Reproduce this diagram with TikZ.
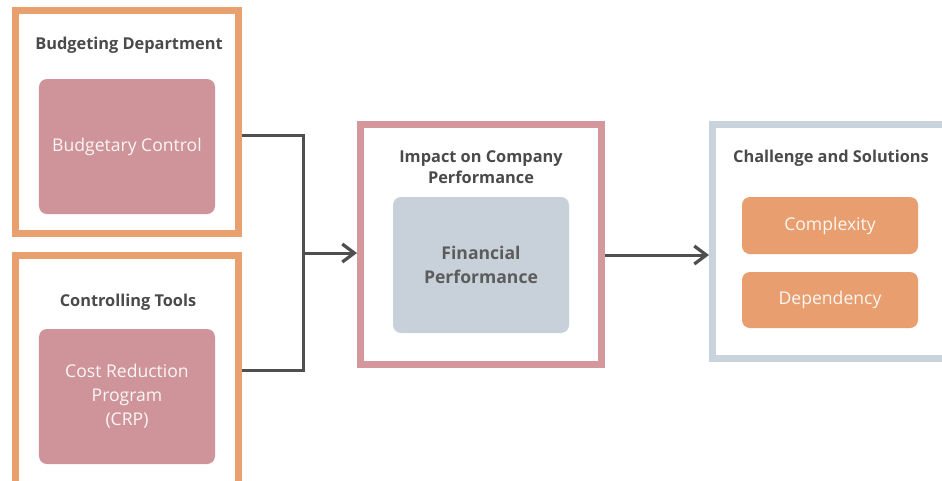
\documentclass[tikz,border=0pt]{standalone}
\usepackage{fontspec}
\setmainfont{Open Sans}
\usetikzlibrary{arrows.meta,calc}

\definecolor{framepeach}{HTML}{E9A06F}
\definecolor{framerose}{HTML}{D3979C}
\definecolor{framegrey}{HTML}{C9D3DC}
\definecolor{boxrose}{HTML}{CE9499}
\definecolor{boxgrey}{HTML}{C8D1DA}
\definecolor{boxpeach}{HTML}{E89E6E}
\definecolor{inkdark}{HTML}{4A4A4A}
\definecolor{inkline}{HTML}{4F4F4F}

\begin{document}
\begin{tikzpicture}[
						frame/.style = {draw=#1, line width=0.14cm, inner sep=0},
						heading/.style = {text=inkdark, font=\fontsize{9.3}{12}\selectfont\bfseries, align=center},
						card/.style = {fill=#1, rounded corners=0.16cm, minimum width=3.52cm, align=center, font=\fontsize{10}{13.6}\selectfont},
						link/.style = {inkline, line width=0.06cm},
						arrow/.style = {link, -{Straight Barb[length=0.24cm, width=0.36cm, line width=0.065cm]}}
						]

					\path[use as bounding box] (0,0) rectangle (18.84,-9.6);
					\clip (0,0) rectangle (18.84,-9.6);
					\fill[white] (0,0) rectangle (18.84,-9.6);

					\node[frame=framepeach, minimum width=4.46cm, minimum height=4.46cm] (budget) at (2.54,-2.44) {};
					\node[frame=framepeach, minimum width=4.46cm, minimum height=4.70cm] (tools) at (2.54,-7.46) {};
					\node[frame=framerose, minimum width=4.82cm, minimum height=4.80cm] (impact) at (9.62,-4.89) {};
					\node[frame=framegrey, minimum width=4.70cm, minimum height=4.68cm] (challenge) at (16.6,-4.83) {};

					\node[heading] (budgettitle) at (2.58,-0.90) {Budgeting Department};
					\node[heading] (toolstitle) at (2.56,-6.04) {Controlling Tools};
					\node[heading] (impacttitle) at (9.62,-3.35) {Impact on Company\\Performance};
					\node[heading] (challengetitle) at (16.62,-3.16) {Challenge and Solutions};

					\node[card=boxrose, text=white!92!boxrose, minimum height=2.70cm] (control) at (2.54,-2.93) {Budgetary Control};
					\node[card=boxrose, text=white!92!boxrose, minimum height=2.70cm] (crp) at (2.54,-7.93) {Cost Reduction\\Program\\(CRP)};
					\node[card=boxgrey, text=inkdark!90!white, font=\fontsize{10}{13.6}\selectfont\bfseries, minimum height=2.72cm] (financial) at (9.62,-5.30) {Financial\\Performance};
					\node[card=boxpeach, text=white!92!boxpeach, minimum height=1.14cm] (complexity) at (16.6,-4.51) {Complexity};
					\node[card=boxpeach, text=white!92!boxpeach, minimum height=1.12cm] (dependency) at (16.6,-6.00) {Dependency};

					\coordinate (join) at (6.06,-5.06);
					\coordinate (impactout) at ([yshift=-0.21cm]impact.east);

					\draw[link] ([yshift=-0.26cm]budget.east) -| (join);
					\draw[link] ([yshift=0.06cm]tools.east) -| (join);
					\draw[arrow] (join) -- (impact.west |- join);
					\draw[arrow] (impactout) -- (challenge.west |- impactout);

				\end{tikzpicture}
\end{document}
